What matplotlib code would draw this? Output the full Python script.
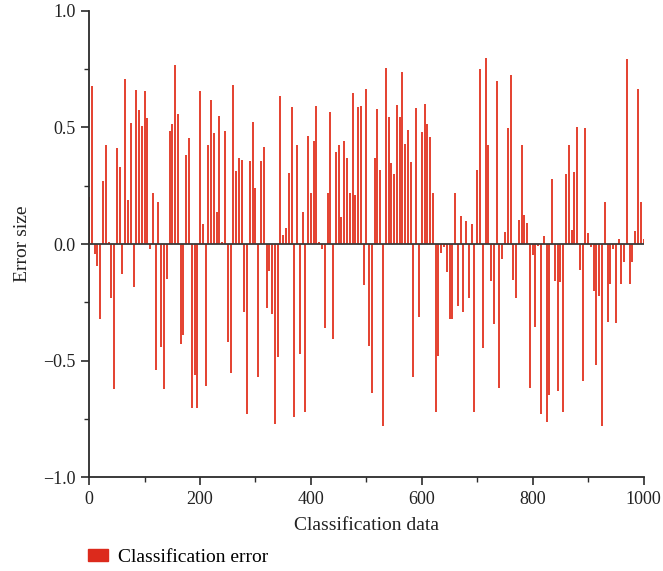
import numpy as np
import matplotlib

matplotlib.use("Agg")
import matplotlib.pyplot as plt
from matplotlib.patches import Patch

# classification samples, one bar every 5 points
sample_index = np.arange(0, 1001, 5)
error_size = [
    0.20, 0.677, -0.044, -0.094, -0.319, 0.27, 0.424, 0.01, -0.229, -0.62,
    0.41, 0.331, -0.13, 0.707, 0.19, 0.521, -0.186, 0.66, 0.573, 0.506,
    0.656, 0.54, -0.023, 0.221, -0.539, 0.18, -0.44, -0.623, -0.151, 0.486,
    0.517, 0.769, 0.557, -0.43, -0.39, 0.381, 0.453, -0.704, -0.561, -0.701,
    0.656, 0.087, -0.609, 0.424, 0.617, 0.477, 0.139, 0.55, 0.007, 0.486,
    -0.421, -0.554, 0.681, 0.313, 0.367, 0.36, -0.29, -0.73, 0.357, 0.524,
    0.241, -0.571, 0.356, 0.416, -0.273, -0.114, -0.299, -0.77, -0.483, 0.633,
    0.039, 0.067, 0.303, 0.586, -0.743, 0.423, -0.473, 0.139, -0.719, 0.463,
    0.22, 0.44, 0.59, 0.007, -0.02, -0.361, 0.221, 0.566, -0.407, 0.394,
    0.427, 0.116, 0.444, 0.367, 0.221, 0.649, 0.21, 0.586, 0.591, -0.176,
    0.667, -0.436, -0.64, 0.367, 0.579, 0.317, -0.779, 0.753, 0.547, 0.346,
    0.3, 0.596, 0.544, 0.736, 0.431, 0.491, 0.35, -0.569, 0.584, -0.311,
    0.481, 0.601, 0.514, 0.461, 0.219, -0.719, -0.48, -0.037, -0.014, -0.119,
    -0.323, -0.323, 0.221, -0.266, 0.119, -0.29, 0.1, -0.233, 0.086, -0.721,
    0.319, 0.749, -0.447, 0.799, 0.424, -0.159, -0.344, 0.7, -0.616, -0.066,
    0.05, 0.496, 0.726, -0.154, -0.229, 0.103, 0.427, 0.123, 0.089, -0.619,
    -0.047, -0.354, -0.007, -0.729, 0.036, -0.763, -0.647, 0.277, -0.159, -0.63,
    -0.164, -0.719, 0.299, 0.427, 0.06, 0.31, 0.504, -0.111, -0.586, 0.496,
    0.049, -0.014, -0.2, -0.519, -0.221, -0.779, 0.179, -0.333, -0.173, -0.023,
    -0.34, 0.024, -0.17, -0.076, 0.793, -0.17, -0.076, 0.056, 0.666, 0.179,
    0.024,
]
series_label = "Classification error"
x_ticks = [0, 200, 400, 600, 800, 1000]
y_ticks = [-1.0, -0.5, 0.0, 0.5, 1.0]

plt.rcParams["font.family"] = ["Liberation Serif", "DejaVu Serif"]

bar_color = "#e2321f"
axis_color = "#2b2b2b"

fig = plt.figure(figsize=(6.63, 5.71), dpi=100)
ax = fig.add_axes([0.1345, 0.164, 0.8362, 0.817])

# thin stems, drawn as lines so every bar gets the same width
ax.vlines(sample_index, 0, error_size, colors=bar_color, lw=1.3)
ax.axhline(0, color="#3a3a3a", lw=1.3, zorder=3)

ax.set_xlim(0, 1000)
ax.set_ylim(-1.0, 1.0)
ax.set_xticks(x_ticks)
ax.set_xticks(np.arange(100, 1000, 200), minor=True)
ax.set_yticks(y_ticks)
ax.set_yticks([-0.75, -0.25, 0.25, 0.75], minor=True)
ax.set_yticklabels(["\u22121.0", "\u22120.5", "0.0", "0.5", "1.0"])

for side in ("top", "right"):
    ax.spines[side].set_visible(False)
for side in ("left", "bottom"):
    ax.spines[side].set_color(axis_color)
    ax.spines[side].set_linewidth(1.3)

ax.tick_params(which="major", direction="out", length=6, width=1.2,
               color=axis_color, labelsize=13, labelcolor="#222222")
ax.tick_params(which="minor", direction="out", length=3.5, width=1.0,
               color=axis_color)

ax.set_xlabel("Classification data", fontsize=14, color="#222222", labelpad=7)
ax.set_ylabel("Error size", fontsize=14, color="#222222", labelpad=9)

fig.legend(handles=[Patch(color="#dc2a1c", label=series_label)],
           loc="lower left", bbox_to_anchor=(0.106, -0.022), frameon=False,
           fontsize=14, handlelength=1.05, handleheight=0.55, handletextpad=0.5)

fig.savefig("out.png", dpi=100)
